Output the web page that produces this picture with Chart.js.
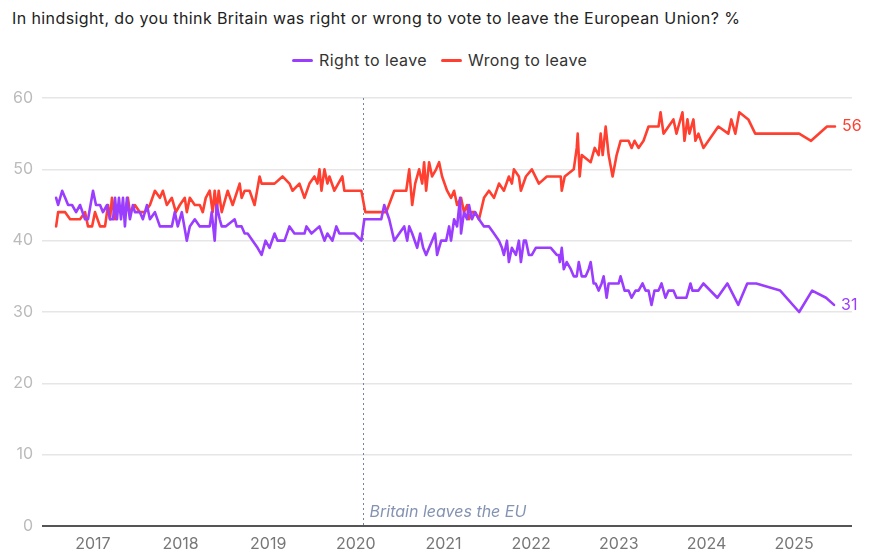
<!DOCTYPE html>
<html>
<head>
<meta charset="utf-8">
<script src="https://cdn.jsdelivr.net/npm/chart.js@4"></script>
<style>
  html, body { margin: 0; padding: 0; background: #fff; }
  #wrap { position: relative; width: 871px; height: 554px; font-family: Inter, "Noto Sans", sans-serif; }
  #title { position: absolute; left: 12px; top: 8px; font-size: 16px; letter-spacing: 0.4px; color: #222; white-space: nowrap; }
  #legend { position: absolute; left: 292px; top: 50px; display: flex; align-items: center; font-size: 16px; letter-spacing: 0.4px; color: #333; }
  .key { display: flex; align-items: center; margin-right: 14px; }
  .swatch { width: 21px; height: 3px; border-radius: 2px; margin-right: 6px; }
  canvas { position: absolute; left: 0; top: 0; }
</style>
</head>
<body>
<div id="wrap">
  <div id="title">In hindsight, do you think Britain was right or wrong to vote to leave the European Union? %</div>
  <div id="legend"></div>
  <canvas id="chart" width="871" height="554"></canvas>
</div>
<script>
// ---------- 数据 (年份用小数表示) ----------
const RIGHT_T = [
  2016.581, 2016.604, 2016.627, 2016.650, 2016.684, 2016.718, 2016.763, 2016.809, 2016.854, 2016.911,
  2016.945, 2017.002, 2017.036, 2017.082, 2017.116, 2017.162, 2017.196, 2017.230, 2017.253, 2017.275,
  2017.298, 2017.321, 2017.344, 2017.366, 2017.389, 2017.423, 2017.457, 2017.480, 2017.537, 2017.571,
  2017.617, 2017.651, 2017.708, 2017.765, 2017.821, 2017.901, 2017.935, 2017.969, 2018.015, 2018.072,
  2018.106, 2018.163, 2018.220, 2018.276, 2018.333, 2018.356, 2018.390, 2018.413, 2018.447, 2018.470,
  2018.515, 2018.618, 2018.641, 2018.697, 2018.732, 2018.766, 2018.823, 2018.879, 2018.925, 2018.970,
  2019.016, 2019.073, 2019.107, 2019.187, 2019.243, 2019.300, 2019.414, 2019.437, 2019.494, 2019.585,
  2019.642, 2019.676, 2019.733, 2019.778, 2019.812, 2019.869, 2019.983, 2020.063, 2020.097, 2020.290,
  2020.324, 2020.381, 2020.438, 2020.495, 2020.552, 2020.586, 2020.609, 2020.643, 2020.700, 2020.734,
  2020.768, 2020.802, 2020.836, 2020.870, 2020.904, 2020.927, 2020.973, 2021.030, 2021.064, 2021.086,
  2021.121, 2021.155, 2021.189, 2021.200, 2021.234, 2021.269, 2021.291, 2021.325, 2021.360, 2021.405,
  2021.462, 2021.519, 2021.576, 2021.633, 2021.667, 2021.689, 2021.724, 2021.746, 2021.780, 2021.826,
  2021.860, 2021.883, 2021.917, 2021.940, 2021.974, 2022.008, 2022.053, 2022.088, 2022.144, 2022.224,
  2022.292, 2022.315, 2022.327, 2022.349, 2022.372, 2022.406, 2022.452, 2022.486, 2022.520, 2022.543,
  2022.577, 2022.622, 2022.656, 2022.679, 2022.713, 2022.736, 2022.770, 2022.804, 2022.827, 2022.850,
  2022.861, 2022.884, 2022.941, 2022.998, 2023.020, 2023.066, 2023.111, 2023.146, 2023.191, 2023.225,
  2023.271, 2023.305, 2023.339, 2023.373, 2023.407, 2023.453, 2023.487, 2023.532, 2023.567, 2023.623,
  2023.658, 2023.771, 2023.794, 2023.817, 2023.840, 2023.908, 2023.965, 2024.124, 2024.238, 2024.363,
  2024.465, 2024.568, 2024.841, 2025.057, 2025.205, 2025.364, 2025.455
];
const RIGHT_V = [
  46, 45, 46, 47, 46, 45, 45, 44, 45, 43,
  43, 47, 45, 45, 44, 45, 43, 43, 46, 43,
  46, 43, 46, 42, 46, 43, 45, 44, 44, 43,
  45, 43, 44, 42, 42, 42, 44, 42, 44, 40,
  42, 43, 42, 42, 42, 44, 40, 45, 43, 42,
  42, 43, 42, 42, 41, 41, 40, 39, 38, 40,
  39, 41, 40, 40, 42, 41, 41, 42, 41, 42,
  40, 41, 40, 42, 41, 41, 41, 40, 43, 43,
  45, 43, 40, 41, 42, 40, 42, 41, 39, 41,
  39, 38, 39, 40, 41, 38, 40, 40, 42, 40,
  43, 42, 46, 41, 44, 43, 45, 43, 44, 43,
  42, 42, 41, 40, 39, 38, 40, 37, 39, 38,
  40, 37, 40, 40, 38, 38, 39, 39, 39, 39,
  38, 38, 37, 39, 36, 37, 36, 35, 35, 37,
  35, 35, 36, 37, 34, 34, 33, 34, 35, 33,
  32, 34, 34, 34, 35, 33, 33, 32, 33, 33,
  34, 33, 33, 31, 33, 33, 34, 32, 33, 33,
  32, 32, 33, 34, 33, 33, 34, 32, 34, 31,
  34, 34, 33, 30, 33, 32, 31
];

const WRONG_T = [
  2016.581, 2016.604, 2016.650, 2016.684, 2016.741, 2016.798, 2016.854, 2016.911, 2016.945, 2016.991,
  2017.025, 2017.082, 2017.139, 2017.173, 2017.196, 2017.218, 2017.253, 2017.287, 2017.309, 2017.366,
  2017.400, 2017.423, 2017.480, 2017.537, 2017.594, 2017.651, 2017.708, 2017.765, 2017.799, 2017.844,
  2017.901, 2017.947, 2017.992, 2018.049, 2018.072, 2018.106, 2018.163, 2018.220, 2018.254, 2018.288,
  2018.333, 2018.367, 2018.390, 2018.413, 2018.436, 2018.470, 2018.515, 2018.538, 2018.595, 2018.675,
  2018.697, 2018.732, 2018.788, 2018.845, 2018.902, 2018.925, 2018.959, 2019.073, 2019.164, 2019.243,
  2019.278, 2019.357, 2019.414, 2019.471, 2019.528, 2019.562, 2019.585, 2019.608, 2019.642, 2019.676,
  2019.699, 2019.755, 2019.846, 2019.869, 2019.983, 2020.063, 2020.108, 2020.347, 2020.438, 2020.575,
  2020.609, 2020.643, 2020.677, 2020.722, 2020.757, 2020.779, 2020.802, 2020.836, 2020.870, 2020.916,
  2020.950, 2020.984, 2021.041, 2021.086, 2021.121, 2021.155, 2021.200, 2021.234, 2021.269, 2021.291,
  2021.325, 2021.360, 2021.405, 2021.462, 2021.519, 2021.576, 2021.633, 2021.689, 2021.746, 2021.780,
  2021.803, 2021.860, 2021.883, 2021.940, 2022.008, 2022.088, 2022.179, 2022.338, 2022.349, 2022.383,
  2022.486, 2022.520, 2022.531, 2022.554, 2022.577, 2022.679, 2022.725, 2022.770, 2022.793, 2022.816,
  2022.850, 2022.884, 2022.929, 2022.975, 2023.020, 2023.111, 2023.146, 2023.180, 2023.225, 2023.282,
  2023.339, 2023.396, 2023.453, 2023.476, 2023.510, 2023.567, 2023.623, 2023.658, 2023.680, 2023.726,
  2023.749, 2023.783, 2023.805, 2023.851, 2023.874, 2023.908, 2023.965, 2024.135, 2024.249, 2024.283,
  2024.329, 2024.374, 2024.477, 2024.556, 2025.057, 2025.193, 2025.375, 2025.466
];
const WRONG_V = [
  42, 44, 44, 44, 43, 43, 43, 44, 42, 42,
  44, 42, 42, 45, 43, 46, 43, 45, 44, 44,
  46, 44, 45, 44, 44, 45, 47, 46, 47, 45,
  46, 44, 45, 46, 44, 46, 45, 45, 44, 46,
  47, 44, 47, 44, 47, 44, 46, 47, 45, 48,
  46, 47, 47, 45, 49, 48, 48, 48, 49, 48,
  47, 48, 46, 48, 49, 48, 50, 47, 50, 48,
  49, 47, 49, 47, 47, 47, 44, 44, 47, 47,
  50, 45, 48, 50, 48, 51, 47, 51, 49, 50,
  51, 49, 47, 46, 47, 45, 46, 44, 45, 43,
  44, 44, 43, 46, 47, 46, 48, 47, 49, 48,
  50, 49, 47, 49, 50, 48, 49, 49, 47, 49,
  50, 53, 55, 49, 52, 51, 53, 52, 55, 52,
  56, 52, 49, 52, 54, 54, 53, 54, 53, 54,
  56, 56, 56, 58, 55, 56, 57, 55, 56, 58,
  54, 57, 55, 57, 54, 55, 53, 56, 55, 57,
  55, 58, 57, 55, 55, 54, 56, 56
];

const SERIES = [
  { label: 'Right to leave', color: '#9b3dff', t: RIGHT_T, v: RIGHT_V },
  { label: 'Wrong to leave', color: '#ff3f30', t: WRONG_T, v: WRONG_V },
];

const BREXIT_DATE = 2020.083;
const BREXIT_LABEL = 'Britain leaves the EU';

// ---------- 图例 ----------
document.getElementById('legend').innerHTML = SERIES.map(s => `
  <span class="key"><span class="swatch" style="background:${s.color}"></span>${s.label}</span>
`).join('');

// ---------- 脱欧日期的虚线 + 末端数值 ----------
const markers = {
  id: 'markers',
  beforeDatasetsDraw(chart) {
    const { ctx, chartArea, scales: { x } } = chart;
    const bx = Math.round(x.getPixelForValue(BREXIT_DATE)) + 0.5;
    ctx.save();
    ctx.strokeStyle = '#7484a3';
    ctx.lineWidth = 1;
    ctx.setLineDash([2, 3]);
    ctx.beginPath();
    ctx.moveTo(bx, chartArea.top);
    ctx.lineTo(bx, chartArea.bottom);
    ctx.stroke();
    ctx.setLineDash([]);
    ctx.font = 'italic 16px Inter, "Noto Sans", sans-serif';
    ctx.fillStyle = '#8493b2';
    ctx.textBaseline = 'alphabetic';
    ctx.fillText(BREXIT_LABEL, bx + 6, chartArea.bottom - 9);
    ctx.restore();
  },
  afterDatasetsDraw(chart) {
    const { ctx } = chart;
    ctx.save();
    ctx.font = '16px Inter, "Noto Sans", sans-serif';
    ctx.textBaseline = 'middle';
    chart.data.datasets.forEach((ds, i) => {
      const pts = chart.getDatasetMeta(i).data;
      const last = pts[pts.length - 1];
      ctx.fillStyle = ds.borderColor;
      ctx.fillText(String(ds.data[ds.data.length - 1].y), last.x + 7, last.y);
    });
    ctx.restore();
  }
};

new Chart(document.getElementById('chart'), {
  type: 'line',
  data: {
    datasets: SERIES.map(s => ({
      label: s.label,
      data: s.t.map((t, i) => ({ x: t, y: s.v[i] })),
      borderColor: s.color,
      borderWidth: 2.6,
      borderJoinStyle: 'round',
      borderCapStyle: 'round',
      pointRadius: 0,
      tension: 0,
      fill: false,
    })),
  },
  options: {
    responsive: false,
    animation: false,
    layout: { padding: { top: 98, right: 19, left: 0, bottom: 0 } },
    plugins: {
      legend: { display: false },
      tooltip: { enabled: false },
    },
    scales: {
      x: {
        type: 'linear',
        min: 2016.42,
        max: 2025.66,
        grid: { display: false, drawTicks: false },
        border: { display: false },
        ticks: {
          stepSize: 1,
          includeBounds: false,
          maxRotation: 0,
          autoSkip: false,
          padding: 9,
          color: '#777',
          font: { family: 'Inter', size: 16 },
          callback: v => String(v),
        },
        afterFit: s => { s.height = 28; },
      },
      y: {
        min: 0,
        max: 60,
        grid: {
          drawTicks: false,
          color: c => c.tick.value === 0 ? '#555' : '#e6e6e6',
          lineWidth: c => c.tick.value === 0 ? 2 : 1.5,
        },
        border: { display: false },
        ticks: {
          stepSize: 10,
          padding: 9,
          color: '#bbb',
          font: { family: 'Inter', size: 16 },
        },
        afterFit: s => { s.width = 42; },
      },
    },
  },
  plugins: [markers],
});
</script>
</body>
</html>
